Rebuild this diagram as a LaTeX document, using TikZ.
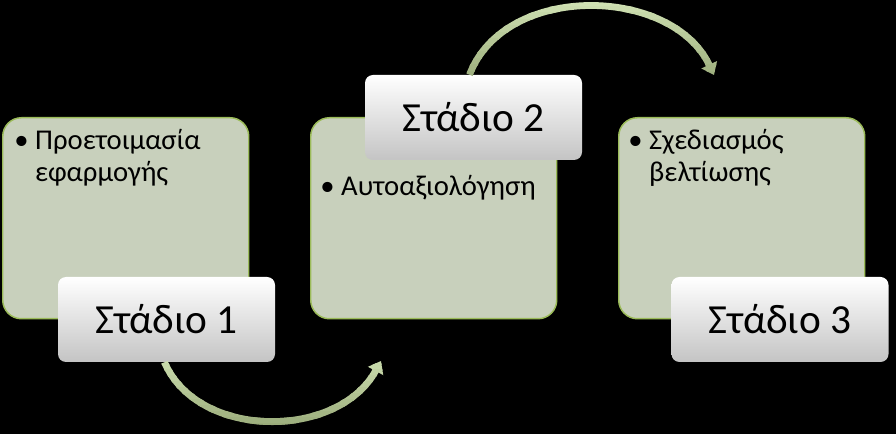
\documentclass[tikz,border=0pt]{standalone}
\usepackage{fontspec}
\setmainfont{Carlito}
\usetikzlibrary{arrows.meta}
\definecolor{boxfill}{RGB}{200,208,188}
\definecolor{boxline}{RGB}{155,187,89}
\definecolor{arrlight}{RGB}{207,224,178}
\definecolor{arrdark}{RGB}{150,168,118}
\definecolor{labbot}{RGB}{196,196,196}
\begin{document}
\begin{tikzpicture}[x=0.75pt,y=-0.75pt,
  stagebox/.style={draw=boxline,line width=1.1pt,fill=boxfill,rounded corners=14pt,
    minimum width=184.5pt,minimum height=150.75pt,anchor=north west,inner sep=0pt},
  stagelab/.style={rounded corners=6pt,top color=white,bottom color=labbot,
    minimum width=162.75pt,minimum height=63.75pt,inner sep=0pt,
    font=\fontsize{31}{36}\selectfont},
  bullettext/.style={anchor=north west,inner sep=0pt,font=\fontsize{21.5}{24}\selectfont},
  flow/.style={line width=5.1pt,-{Triangle[length=8.5pt,width=12.5pt]}}]
\fill[black] (0,0) rectangle (896,434);
\useasboundingbox (0,0) rectangle (896,434);

\node[stagebox] (box1) at (2,117) {};
\node[stagebox] (box2) at (310,117) {};
\node[stagebox] (box3) at (618,117) {};

\node[bullettext] (t1) at (14,127) {\begin{tabular}[t]{@{}l@{\hspace{5pt}}l@{}}\textbullet & Προετοιμασία\\ & εφαρμογής\end{tabular}};
\node[bullettext] (t2) at (320,173) {\begin{tabular}[t]{@{}l@{\hspace{5pt}}l@{}}\textbullet & Αυτοαξιολόγηση\end{tabular}};
\node[bullettext] (t3) at (628,127) {\begin{tabular}[t]{@{}l@{\hspace{5pt}}l@{}}\textbullet & Σχεδιασμός\\ & βελτίωσης\end{tabular}};

\node[stagelab] (lab1) at (166.5,319.5) {Στάδιο 1};
\node[stagelab] (lab2) at (473.5,117.5) {Στάδιο 2};
\node[stagelab] (lab3) at (780,319.5) {Στάδιο 3};

\coordinate (e1) at (381,361);
\coordinate (e2) at (714,75);

% arrow 1 with vertical gradient (light top, dark bottom)
\foreach \i in {0,...,13}{
  \pgfmathsetmacro{\ya}{352+\i*6}
  \pgfmathsetmacro{\yb}{358.5+\i*6}
  \pgfmathtruncatemacro{\p}{\i*100/13}
  \begin{scope}
    \clip (150,\ya) rectangle (400,\yb);
    \draw[flow,draw=arrdark!\p!arrlight]
      ([xshift=-1.5pt]lab1.south) .. controls (198,440) and (338,440) .. (e1);
  \end{scope}
}
% arrow 2 with vertical gradient
\foreach \i in {0,...,13}{
  \pgfmathsetmacro{\ya}{0+\i*6.5}
  \pgfmathsetmacro{\yb}{7+\i*6.5}
  \pgfmathtruncatemacro{\p}{\i*100/13}
  \begin{scope}
    \clip (450,\ya) rectangle (740,\yb);
    \draw[flow,draw=arrdark!\p!arrlight]
      ([xshift=-3pt]lab2.north) .. controls (505,-18) and (672,-14) .. (e2);
  \end{scope}
}
\end{tikzpicture}
\end{document}
